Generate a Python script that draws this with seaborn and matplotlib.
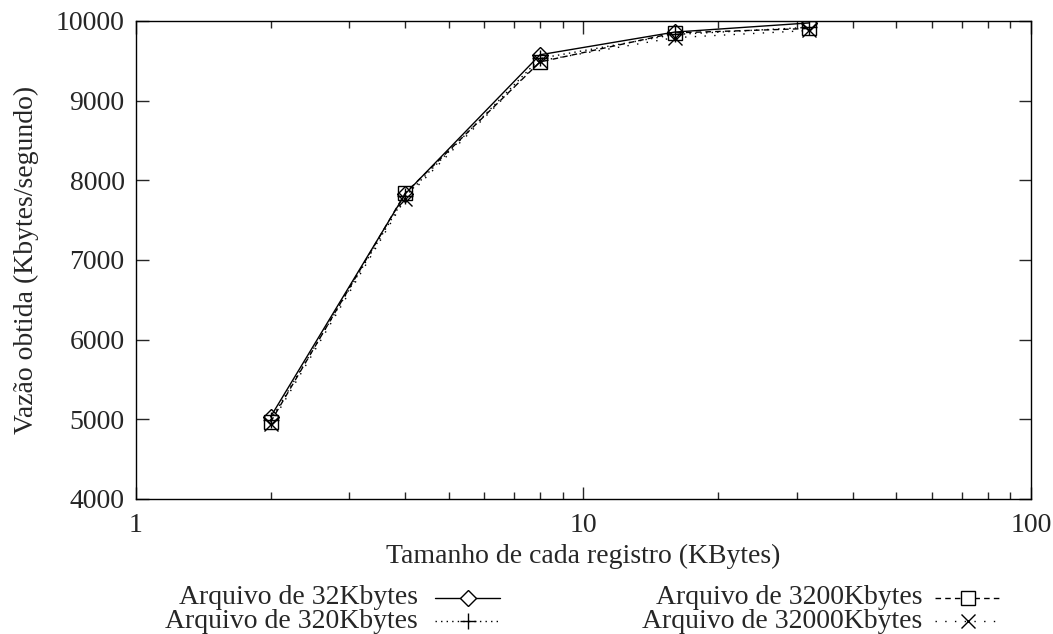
import matplotlib
matplotlib.use("Agg")
import matplotlib.pyplot as plt
import seaborn as sns
import pandas as pd
from matplotlib.lines import Line2D
from matplotlib.ticker import LogLocator, NullFormatter

record_sizes = [2, 4, 8, 16, 32]
series_names = ["Arquivo de 32Kbytes", "Arquivo de 320Kbytes",
                "Arquivo de 3200Kbytes", "Arquivo de 32000Kbytes"]
vals_32k = [5030, 7830, 9575, 9860, 9975]
vals_320k = [4990, 7800, 9530, 9830, 9920]
vals_3200k = [4965, 7840, 9485, 9850, 9905]
vals_32000k = [4935, 7770, 9500, 9790, 9880]
y_ticks = [4000, 5000, 6000, 7000, 8000, 9000, 10000]
x_ticks = [1, 10, 100]

all_vals = [vals_32k, vals_320k, vals_3200k, vals_32000k]

sns.set_style("ticks")
plt.rcParams["font.family"] = ["Liberation Serif", "DejaVu Serif"]
plt.rcParams["font.size"] = 20

fig = plt.figure(figsize=(10.53, 6.34), dpi=100)
ax = fig.add_axes([0.129, 0.213, 0.850, 0.754])

marker_objs = ["D", "+", "s", "x"]
marker_sizes = [8.5, 12, 10, 10]
dash_objs = ["-", (0, (1, 3)), (0, (4, 3)), (0, (1, 6))]

for name, vals, mk, ms, ls in zip(series_names, all_vals, marker_objs, marker_sizes, dash_objs):
    d = pd.DataFrame({"size": record_sizes, "rate": vals})
    sns.lineplot(data=d, x="size", y="rate", ax=ax, color="black", linewidth=1.0,
                 linestyle=ls, marker=mk, markersize=ms, markerfacecolor="none",
                 markeredgecolor="black", markeredgewidth=1.0)

ax.set_xscale("log")
ax.set_xlim(1, 100)
ax.set_ylim(4000, 10000)
ax.set_yticks(y_ticks)
ax.set_xticks(x_ticks)
ax.set_xticklabels([str(t) for t in x_ticks])
ax.xaxis.set_minor_locator(LogLocator(base=10, subs=range(2, 10)))
ax.xaxis.set_minor_formatter(NullFormatter())
ax.tick_params(axis="both", which="major", direction="in", length=9, width=1,
               top=True, right=True, labelsize=20)
ax.tick_params(axis="x", which="major", pad=10)
ax.tick_params(axis="y", which="major", pad=8)
ax.tick_params(axis="both", which="minor", direction="in", length=5, width=1,
               top=True, right=True)
for s in ax.spines.values():
    s.set_linewidth(1.0)
    s.set_color("black")
ax.set_xlabel("Tamanho de cada registro (KBytes)", fontsize=20, labelpad=4)
ax.set_ylabel("Vazão obtida (Kbytes/segundo)", fontsize=20, labelpad=12)

# gnuplot-style legend below the plot
W, H = 1053, 634
legend_pos = [(418, 598, 435, 500), (418, 621, 435, 500),
              (922, 598, 935, 1000), (922, 621, 935, 1000)]
for name, mk, ms, ls, (tx, ty, lx0, lx1) in zip(series_names, marker_objs, marker_sizes,
                                                 dash_objs, legend_pos):
    fig.text(tx / W, 1 - ty / H, name, ha="right", va="center", fontsize=20)
    fig.add_artist(Line2D([lx0 / W, lx1 / W], [1 - ty / H, 1 - ty / H],
                          transform=fig.transFigure, color="black", linewidth=1.0,
                          linestyle=ls))
    fig.add_artist(Line2D([(lx0 + lx1) / 2 / W], [1 - ty / H], transform=fig.transFigure,
                          marker=mk, markersize=ms, markerfacecolor="white",
                          markeredgecolor="black", markeredgewidth=1.0, linestyle="none"))

fig.savefig("out.png", dpi=100)
